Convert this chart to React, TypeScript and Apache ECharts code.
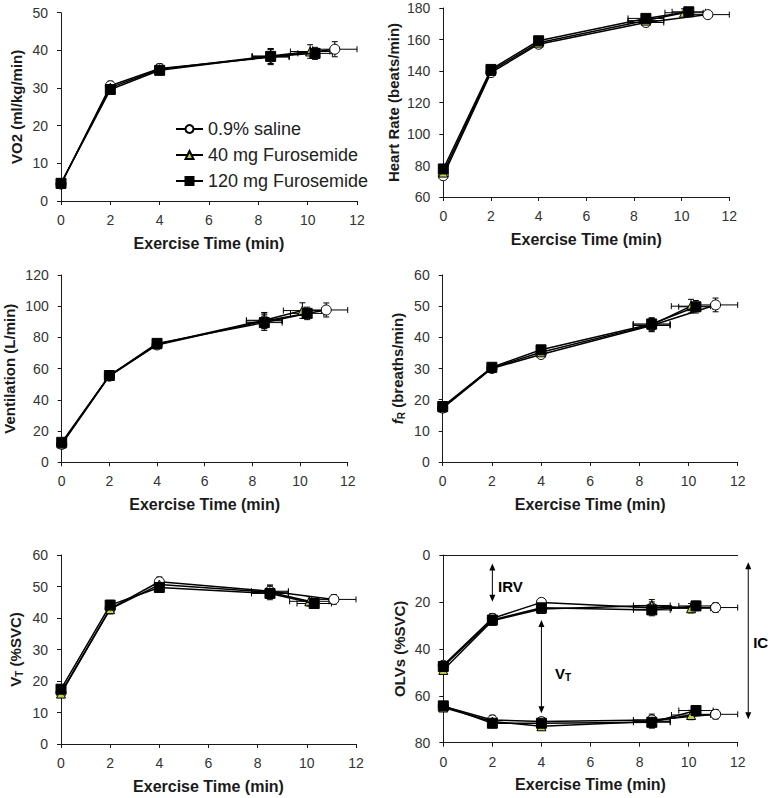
import React, { useEffect, useRef } from "react";
import * as echarts from "echarts";

const FONT = "'Liberation Sans', Arial, Helvetica, sans-serif";

// ---- treatments ----
const treatmentNames = ["0.9% saline", "40 mg Furosemide", "120 mg Furosemide"];

// ---- exercise time (x) ----
const salineTime = [0, 2, 4, 8.5, 11.1];
const f40Time = [0, 2, 4, 8.5, 10.1];
const f120Time = [0, 2, 4, 8.5, 10.3];
const salineTimeErr = [0, 0, 0, 0.75, 0.9];
const f40TimeErr = [0, 0, 0, 0.75, 0.8];
const f120TimeErr = [0, 0, 0, 0.75, 0.7];

// ---- VO2 (ml/kg/min) ----
const vo2Saline = [4.5, 30.6, 35.2, 38.2, 40.3];
const vo2F40 = [4.6, 30.1, 35.0, 38.5, 39.7];
const vo2F120 = [4.7, 29.6, 34.7, 38.4, 39.2];
const vo2SalineErr = [0.8, 1.2, 1.2, 2.0, 2.0];
const vo2F40Err = [0.8, 1.2, 1.2, 2.0, 1.8];
const vo2F120Err = [0.8, 1.2, 1.2, 2.0, 1.6];

// ---- Heart rate (beats/min) ----
const hrSaline = [73.5, 139, 157, 170.8, 175.8];
const hrF40 = [75.5, 140, 158, 172, 177];
const hrF120 = [77.8, 141, 159.2, 173.4, 177.6];
const hrSalineErr = [2, 2, 2, 2.5, 2.5];
const hrF40Err = [2, 2, 2, 2.5, 2.5];
const hrF120Err = [2, 2, 2, 2.5, 2.5];

// ---- Ventilation (L/min) ----
const veSaline = [11.5, 55.2, 75.2, 90.6, 97.6];
const veF40 = [12, 55.5, 75.6, 91, 97.2];
const veF120 = [12.8, 55.6, 76.2, 89.5, 95.4];
const veSalineErr = [1.5, 2, 2, 5, 4.5];
const veF40Err = [1.5, 2, 2, 5, 5];
const veF120Err = [1.5, 2, 2, 5, 4];

// ---- fR (breaths/min) ----
const frSaline = [17.3, 30, 34.5, 43.8, 50.4];
const frF40 = [17.5, 30.2, 35.2, 44, 50];
const frF120 = [17.8, 30.4, 36, 44.3, 49.8];
const frSalineErr = [1, 1.2, 1.2, 2, 2.2];
const frF40Err = [1, 1.2, 1.2, 2, 2.2];
const frF120Err = [1, 1.2, 1.2, 2, 2];

// ---- VT (%SVC) ----
const vtSaline = [16.3, 43, 51.5, 48.5, 45.9];
const vtF40 = [16, 42.8, 50.6, 48.2, 45.3];
const vtF120 = [17.4, 44.1, 49.7, 47.8, 44.6];
const vtSalineErr = [1.2, 1.5, 1.5, 2, 1.5];
const vtF40Err = [1.2, 1.5, 1.5, 2, 1.5];
const vtF120Err = [1.2, 1.5, 1.5, 2, 1.5];

// ---- OLVs (%SVC): end-inspiratory (upper) and end-expiratory (lower) ----
const eilvSaline = [47, 27, 20.2, 22.5, 22.4];
const eilvF40 = [49, 28, 23, 21.5, 22.7];
const eilvF120 = [47.5, 27.7, 22.5, 23.4, 21.7];
const eelvSaline = [64.5, 70.3, 71, 70.3, 67.9];
const eelvF40 = [65, 71, 73, 71, 68.2];
const eelvF120 = [64.3, 71.7, 71.7, 71.3, 66.3];
const olvErr = [1.5, 2, 1.5, 2.5, 2];

// ---- OLV annotations ----
const annLabels = ["IRV", "VT", "IC"];
const annX = [2, 4, 12.43];
const annYStart = [3.6, 27.7, 3.1];
const annYEnd = [19.9, 67.5, 70];
const annLabelX = [2.23, 4.55, 12.63];
const annLabelY = [13.6, 50.3, 37.5];

// ---- axes ----
const xMin = 0, xMax = 12, xStep = 2;
const yAxisNames = [
  "VO2 (ml/kg/min)",
  "Heart Rate (beats/min)",
  "Ventilation (L/min)",
  "{i|f}{s|R}{n| (breaths/min)}",
  "{n|V}{s|T}{n| (%SVC)}",
  "OLVs (%SVC)",
];
const yMins = [0, 60, 0, 0, 0, 0];
const yMaxs = [50, 180, 120, 60, 60, 80];
const ySteps = [10, 20, 20, 10, 10, 20];
const yInverse = [false, false, false, false, false, true];

// ---- layout (px) ----
const grids = [
  { left: 61, top: 12.7, width: 296, height: 188.3 },
  { left: 443.3, top: 8, width: 286, height: 189 },
  { left: 61.7, top: 275, width: 286, height: 187.3 },
  { left: 442.7, top: 275, width: 295, height: 187 },
  { left: 61, top: 555, width: 295, height: 189 },
  { left: 443.3, top: 555, width: 294.4, height: 187.7 },
];
const yNameGaps = [37, 42, 45, 36, 37, 36];

const symbolsByTreatment = [
  { symbol: "circle", size: 10, fill: "#ffffff" },
  { symbol: "triangle", size: 9, fill: "#c3cf3f" },
  { symbol: "rect", size: 10, fill: "#000000" },
];

const timesByTreatment = [salineTime, f40Time, f120Time];
const timeErrByTreatment = [salineTimeErr, f40TimeErr, f120TimeErr];

type Group = { vals: number[][]; errs: number[][] };
const panelGroups: Group[][] = [
  [{ vals: [vo2Saline, vo2F40, vo2F120], errs: [vo2SalineErr, vo2F40Err, vo2F120Err] }],
  [{ vals: [hrSaline, hrF40, hrF120], errs: [hrSalineErr, hrF40Err, hrF120Err] }],
  [{ vals: [veSaline, veF40, veF120], errs: [veSalineErr, veF40Err, veF120Err] }],
  [{ vals: [frSaline, frF40, frF120], errs: [frSalineErr, frF40Err, frF120Err] }],
  [{ vals: [vtSaline, vtF40, vtF120], errs: [vtSalineErr, vtF40Err, vtF120Err] }],
  [
    { vals: [eilvSaline, eilvF40, eilvF120], errs: [olvErr, olvErr, olvErr] },
    { vals: [eelvSaline, eelvF40, eelvF120], errs: [olvErr, olvErr, olvErr] },
  ],
];

function errorRenderItem(params: any, api: any) {
  const x = api.value(0);
  const y = api.value(1);
  const xe = api.value(2);
  const ye = api.value(3);
  const c = api.coord([x, y]);
  const style = { stroke: "#000", lineWidth: 1 };
  const cap = 3;
  const children: any[] = [];
  if (ye > 0) {
    const t = api.coord([x, y + ye]);
    const b = api.coord([x, y - ye]);
    children.push({ type: "line", shape: { x1: c[0], y1: t[1], x2: c[0], y2: b[1] }, style });
    children.push({ type: "line", shape: { x1: c[0] - cap, y1: t[1], x2: c[0] + cap, y2: t[1] }, style });
    children.push({ type: "line", shape: { x1: c[0] - cap, y1: b[1], x2: c[0] + cap, y2: b[1] }, style });
  }
  if (xe > 0) {
    const l = api.coord([x - xe, y]);
    const r = api.coord([x + xe, y]);
    children.push({ type: "line", shape: { x1: l[0], y1: c[1], x2: r[0], y2: c[1] }, style });
    children.push({ type: "line", shape: { x1: l[0], y1: c[1] - cap, x2: l[0], y2: c[1] + cap }, style });
    children.push({ type: "line", shape: { x1: r[0], y1: c[1] - cap, x2: r[0], y2: c[1] + cap }, style });
  }
  return { type: "group", children };
}

function annotationRenderItem(params: any, api: any) {
  const i = params.dataIndex;
  const p1 = api.coord([api.value(0), api.value(1)]);
  const p2 = api.coord([api.value(0), api.value(2)]);
  const lp = api.coord([annLabelX[i], annLabelY[i]]);
  const h = 7;
  const w = 3;
  const x = p1[0];
  const label = annLabels[i];
  const text = label === "VT" ? "{a|V}{b|T}" : "{a|" + label + "}";
  return {
    type: "group",
    children: [
      { type: "line", shape: { x1: x, y1: p1[1] + h - 1, x2: x, y2: p2[1] - h + 1 }, style: { stroke: "#000", lineWidth: 1 } },
      { type: "polygon", shape: { points: [[x, p1[1]], [x - w, p1[1] + h], [x + w, p1[1] + h]] }, style: { fill: "#000" } },
      { type: "polygon", shape: { points: [[x, p2[1]], [x - w, p2[1] - h], [x + w, p2[1] - h]] }, style: { fill: "#000" } },
      {
        type: "text",
        x: lp[0],
        y: lp[1],
        style: {
          text,
          align: "left",
          verticalAlign: "middle",
          rich: {
            a: { fontFamily: FONT, fontWeight: "bold", fontSize: 15, fill: "#000", lineHeight: 18 },
            b: { fontFamily: FONT, fontWeight: "bold", fontSize: 10, fill: "#000", verticalAlign: "bottom", padding: [8, 0, 0, 0] },
          },
        },
      },
    ],
  };
}

function buildOption() {
  const xAxis: any[] = [];
  const yAxis: any[] = [];
  const series: any[] = [];
  grids.forEach((g, i) => {
    xAxis.push({
      type: "value",
      gridIndex: i,
      min: xMin,
      max: xMax,
      interval: xStep,
      name: "Exercise Time (min)",
      nameLocation: "middle",
      nameGap: 34,
      nameTextStyle: { fontFamily: FONT, fontWeight: "bold", fontSize: 16, color: "#1a1a1a" },
      axisLine: { onZero: false, lineStyle: { color: "#1a1a1a", width: 1 } },
      axisTick: { show: true, length: 4, lineStyle: { color: "#1a1a1a" } },
      axisLabel: { fontFamily: FONT, fontSize: 14, color: "#333", margin: 12 },
      splitLine: { show: false },
    });
    yAxis.push({
      type: "value",
      gridIndex: i,
      min: yMins[i],
      max: yMaxs[i],
      interval: ySteps[i],
      inverse: yInverse[i],
      name: yAxisNames[i],
      nameLocation: "middle",
      nameGap: yNameGaps[i],
      nameTextStyle: {
        fontFamily: FONT,
        fontWeight: "bold",
        fontSize: 15,
        color: "#1a1a1a",
        rich: {
          n: { fontFamily: FONT, fontWeight: "bold", fontSize: 15, color: "#1a1a1a", lineHeight: 18 },
          i: { fontFamily: FONT, fontWeight: "bold", fontStyle: "italic", fontSize: 15, color: "#1a1a1a", lineHeight: 18 },
          s: { fontFamily: FONT, fontWeight: "bold", fontSize: 10, color: "#1a1a1a", verticalAlign: "bottom", padding: [8, 0, 0, 0] },
        },
      },
      axisLine: { show: true, onZero: false, lineStyle: { color: "#1a1a1a", width: 1 } },
      axisTick: { show: true, length: 4, lineStyle: { color: "#1a1a1a" } },
      axisLabel: { fontFamily: FONT, fontSize: 14, color: "#333", margin: 13 },
      splitLine: { show: false },
    });

    panelGroups[i].forEach((grp) => {
      grp.vals.forEach((vals, t) => {
        const times = timesByTreatment[t];
        const sym = symbolsByTreatment[t];
        series.push({
          type: "custom",
          name: "err-" + i + "-" + t,
          xAxisIndex: i,
          yAxisIndex: i,
          silent: true,
          z: 2,
          encode: { x: 0, y: 1 },
          renderItem: errorRenderItem,
          data: times.map((x, k) => [x, vals[k], timeErrByTreatment[t][k], grp.errs[t][k]]),
        });
        series.push({
          type: "line",
          name: treatmentNames[t],
          xAxisIndex: i,
          yAxisIndex: i,
          z: 3 + t,
          symbol: sym.symbol,
          symbolSize: sym.size,
          showAllSymbol: true,
          lineStyle: { color: "#000", width: 1.5 },
          itemStyle: { color: sym.fill, borderColor: "#000", borderWidth: 1 },
          emphasis: { disabled: true },
          data: times.map((x, k) => [x, vals[k]]),
        });
      });
    });
  });

  // top border line of the OLV panel (y = 0 line)
  xAxis.push({
    type: "value",
    gridIndex: 5,
    position: "top",
    min: xMin,
    max: xMax,
    interval: xStep,
    axisLine: { show: true, onZero: false, lineStyle: { color: "#1a1a1a", width: 1 } },
    axisTick: { show: false },
    axisLabel: { show: false },
    splitLine: { show: false },
  });

  series.push({
    type: "custom",
    name: "annotations",
    xAxisIndex: 5,
    yAxisIndex: 5,
    silent: true,
    clip: false,
    z: 10,
    encode: { x: 0, y: 1 },
    renderItem: annotationRenderItem,
    data: annX.map((x, k) => [x, annYStart[k], annYEnd[k]]),
  });

  return {
    animation: false,
    backgroundColor: "#ffffff",
    grid: grids.map((g) => ({ ...g, containLabel: false })),
    xAxis,
    yAxis,
    legend: {
      data: treatmentNames,
      orient: "vertical",
      left: 170,
      top: 115,
      itemWidth: 27,
      itemHeight: 10,
      itemGap: 8,
      selectedMode: false,
      textStyle: { fontFamily: FONT, fontSize: 18, color: "#222" },
    },
    series,
  };
}

export default function App() {
  const ref = useRef<HTMLDivElement>(null);
  useEffect(() => {
    if (!ref.current) return;
    const chart = echarts.init(ref.current, undefined, { renderer: "svg" });
    chart.setOption(buildOption() as any);
    return () => chart.dispose();
  }, []);
  return (
    <div
      ref={ref}
      style={{ position: "absolute", left: 0, top: 0, width: 773, height: 798, background: "#fff" }}
    />
  );
}
